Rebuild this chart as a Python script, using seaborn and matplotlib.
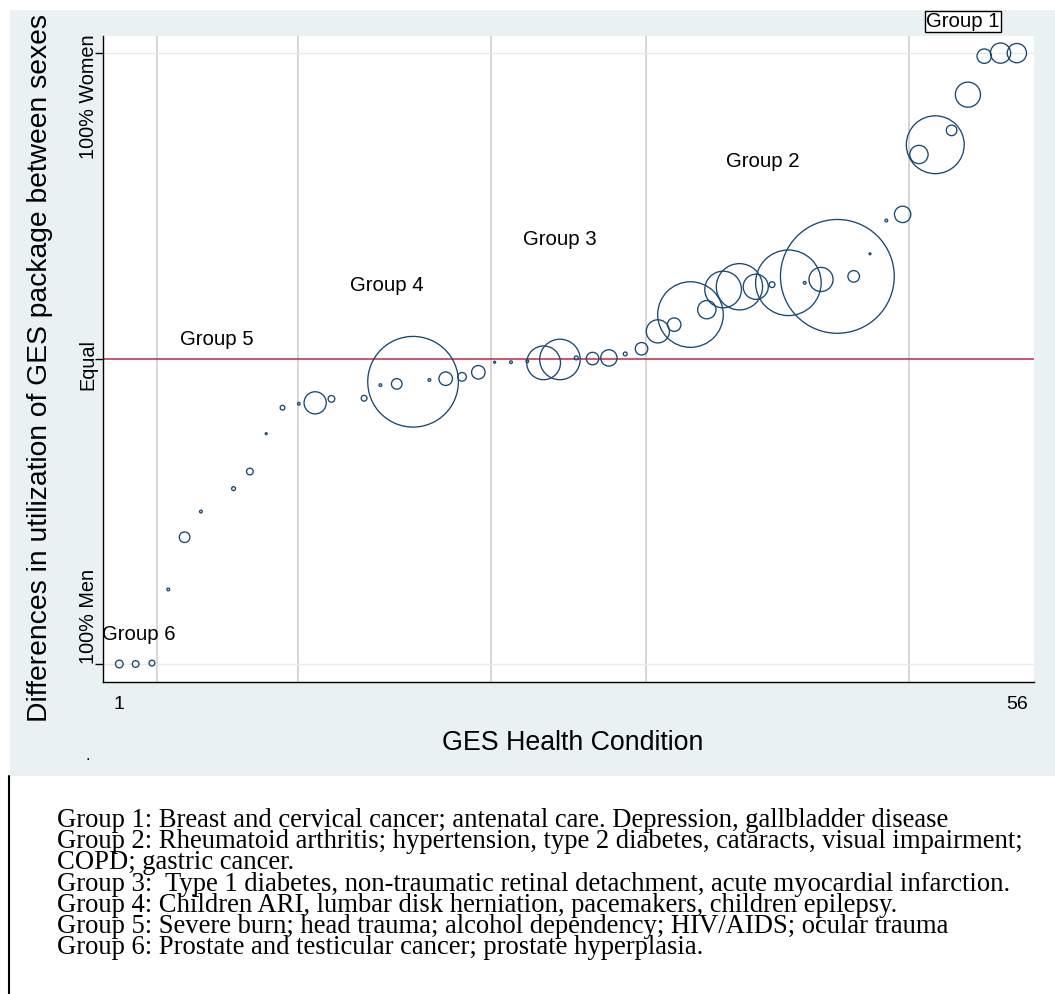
import matplotlib
matplotlib.use("Agg")
import matplotlib.pyplot as plt
import seaborn as sns
import pandas as pd
from matplotlib.patches import Rectangle
from matplotlib.transforms import blended_transform_factory

# GES health conditions ranked by the sex gap in utilization
condition_rank = [1, 2, 3, 4, 5, 6, 8, 9, 10, 11, 12, 13, 14, 16, 17, 18, 19, 20,
                  21, 22, 23, 24, 25, 26, 27, 28, 29, 30, 31, 32, 33, 34, 35, 36,
                  37, 38, 39, 40, 41, 42, 43, 44, 45, 46, 47, 48, 49, 50, 51, 52,
                  53, 54, 55, 56]

# Difference in utilization (women minus men, %): -100 = only men, 100 = only women
sex_difference = [-100, -100, -99.7, -75.6, -58.5, -50.1, -42.6, -37.0, -24.6, -16.1,
                  -14.8, -14.5, -13.2, -13.0, -8.7, -8.3, -7.6, -7.0, -6.6, -6.0,
                  -4.5, -1.2, -1.2, -0.9, -1.4, -0.3, 0.2, 0.0, 0.2, 1.5,
                  3.2, 8.9, 11.1, 14.4, 16.0, 22.6, 23.5, 23.5, 24.2, 24.8,
                  24.8, 25.9, 26.9, 26.9, 34.3, 45.2, 47.2, 66.8, 70.0, 74.7,
                  86.4, 99.0, 100, 100]

# Volume of use of each condition (bubble area)
utilization = [16, 12, 9, 2, 30, 2, 4, 12, 1, 6,
               2, 132, 12, 9, 2, 30, 2209, 2, 49, 20,
               49, 1, 2, 2, 306, 441, 4, 42, 72, 4,
               42, 144, 49, 1156, 90, 361, 576, 169, 9, 1156,
               2, 156, 3481, 36, 1, 2, 72, 90, 900, 30,
               169, 56, 110, 100]

# Boundaries between groups of conditions
group_breaks = [3.3, 11.95, 23.8, 33.3, 49.4]

group_labels = ["Group 1", "Group 2", "Group 3", "Group 4", "Group 5", "Group 6"]
group_label_x = [52.7, 40.4, 28.0, 17.4, 7.0, 2.2]
group_label_y = [110.3, 64.5, 39.0, 23.9, 6.2, -90.3]

y_ticks = [-100, 0, 100]
y_tick_labels = ["100% Men", "Equal", "100% Women"]
y_label_pos = [-84.3, -2.0, 85.8]
x_ticks = [1, 56]

footnote = (
    "Group 1: Breast and cervical cancer; antenatal care. Depression, gallbladder disease\n"
    "Group 2: Rheumatoid arthritis; hypertension, type 2 diabetes, cataracts, visual impairment;\n"
    "COPD; gastric cancer.\n"
    "Group 3:  Type 1 diabetes, non-traumatic retinal detachment, acute myocardial infarction.\n"
    "Group 4: Children ARI, lumbar disk herniation, pacemakers, children epilepsy.\n"
    "Group 5: Severe burn; head trauma; alcohol dependency; HIV/AIDS; ocular trauma\n"
    "Group 6: Prostate and testicular cancer; prostate hyperplasia."
)

df = pd.DataFrame({"rank": condition_rank, "diff": sex_difference, "use": utilization})

sns.set_theme(style="white")
plt.rcParams["font.family"] = ["Liberation Sans", "DejaVu Sans"]
plt.rcParams.update({"text.color": "black", "axes.labelcolor": "black",
                     "xtick.color": "black", "ytick.color": "black"})

W, H = 1055, 994
fig = plt.figure(figsize=(W / 100, H / 100), dpi=100, facecolor="white")

# Light graph-region background, kept behind the axes
bg = Rectangle((10 / W, (H - 776) / H), 1 - 10 / W, (776 - 10) / H,
               transform=fig.transFigure, facecolor="#eaf1f3",
               edgecolor="none", zorder=-10)
fig.patches.append(bg)
# Left rule beside the notes
fig.add_artist(plt.Line2D([9 / W, 9 / W], [0, (H - 776) / H], color="black",
                          linewidth=1.5, transform=fig.transFigure))

ax = fig.add_axes([103 / W, (H - 682) / H, (1034 - 103) / W, (682 - 36) / H])
ax.set_facecolor("white")

for xb in group_breaks:
    ax.axvline(xb, color="#d6d6d6", linewidth=1.4, zorder=1)
for yt in (-100, 100):
    ax.axhline(yt, color="#e4ecee", linewidth=1.0, zorder=1)
ax.axhline(0, color="#c2264b", linewidth=1.1, zorder=2)

navy = "#1a476f"
max_use = max(utilization)
sns.scatterplot(data=df, x="rank", y="diff", size="use",
                sizes=(0, 2.0736 * max_use * 0.93), size_norm=(0, max_use),
                legend=False, ax=ax, zorder=3)
for coll in ax.collections:
    coll.set_facecolor("none")
    coll.set_edgecolor(navy)
    coll.set_linewidth(0.95)

ax.set_xlim(0, 57.05)
ax.set_ylim(-105.9, 105.6)

ax.set_xticks(x_ticks)
ax.set_xticklabels([str(v) for v in x_ticks], fontsize=14)
ax.tick_params(axis="x", length=0, pad=10)
ax.set_yticks(y_ticks)
ax.set_yticklabels([])
ax.tick_params(axis="y", length=6, width=1, color="black", direction="out", left=True)

# Rotated category labels beside the y ticks
trans = blended_transform_factory(ax.transAxes, ax.transData)
for lab, yp in zip(y_tick_labels, y_label_pos):
    ax.text(-0.016, yp, lab, rotation=90, ha="center", va="center", fontsize=14.3,
            transform=trans, clip_on=False)

for side in ("top", "right"):
    ax.spines[side].set_visible(False)
for side in ("left", "bottom"):
    ax.spines[side].set_color("black")
    ax.spines[side].set_linewidth(1.0)

ax.set_xlabel("GES Health Condition", fontsize=19.3)
ax.xaxis.set_label_coords(0.505, -0.075)
ax.set_ylabel("Differences in utilization of GES package between sexes", fontsize=20.3)
ax.yaxis.set_label_coords(-0.054, 0.486)

for label, gx, gy in zip(group_labels, group_label_x, group_label_y):
    if label == "Group 1":
        ax.text(gx, gy, label, fontsize=14.7, ha="center", va="center", clip_on=False,
                bbox=dict(boxstyle="square,pad=0.06", facecolor="white", edgecolor="black",
                          linewidth=1.0))
    else:
        ax.text(gx, gy, label, fontsize=14.7, ha="center", va="center", zorder=4)

fig.text(88 / W, (H - 755) / H, ".", fontsize=12, ha="center", va="center")

fig.text(57 / W, (H - 808) / H, footnote, fontsize=19.2, ha="left", va="top",
         family=["Liberation Serif", "DejaVu Serif"], linespacing=0.8)

fig.savefig("out.png", dpi=100, facecolor=fig.get_facecolor())
